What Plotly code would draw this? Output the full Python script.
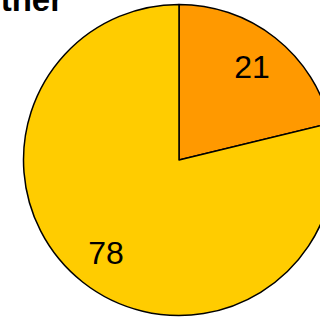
import plotly.graph_objects as go

labels = ["A", "B"]
values = [21, 78]
colors = ["#FF9900", "#FFCC00"]
title_text = "Other"

W, H = 340, 317
cx, cy, R = 179, 160, 155.5
dom = dict(x=[(cx - R) / W, (cx + R) / W], y=[1 - (cy + R) / H, 1 - (cy - R) / H])
font = "Liberation Sans, Arial, sans-serif"

fig = go.Figure()
fig.add_trace(go.Pie(
    labels=labels,
    values=values,
    marker=dict(colors=colors, line=dict(color="black", width=1.5)),
    sort=False,
    direction="clockwise",
    rotation=0,
    textinfo="none",
    domain=dom,
    showlegend=False,
    hoverinfo="skip",
))
# transparent ring overlay that carries the value labels at mid-radius
fig.add_trace(go.Pie(
    labels=labels,
    values=values,
    hole=0.52,
    marker=dict(colors=["rgba(0,0,0,0)"] * len(values), line=dict(width=0)),
    sort=False,
    direction="clockwise",
    rotation=0,
    textinfo="value",
    textposition="inside",
    insidetextorientation="horizontal",
    textfont=dict(family=font, size=32, color="black"),
    domain=dom,
    showlegend=False,
    hoverinfo="skip",
))

fig.add_annotation(
    text="<b>" + title_text + "</b>",
    xref="paper", yref="paper",
    x=65 / W, y=1 - 20 / H,
    xanchor="right", yanchor="bottom",
    showarrow=False,
    font=dict(family=font, size=33, color="black"),
)

fig.update_layout(
    width=W, height=H,
    margin=dict(l=0, r=0, t=0, b=0),
    paper_bgcolor="white",
    plot_bgcolor="white",
)

fig.write_html("out.html", config={"displayModeBar": False},
               post_script="document.body.style.margin='0';")
